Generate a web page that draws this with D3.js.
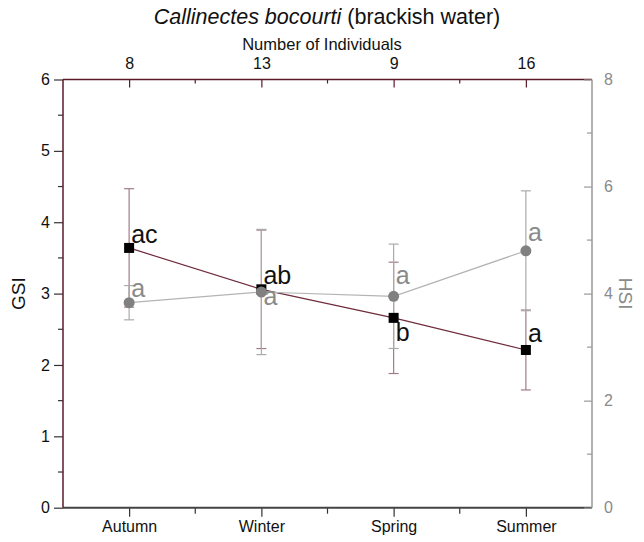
<!DOCTYPE html>
<html>
<head>
<meta charset="utf-8">
<script src="https://cdn.jsdelivr.net/npm/d3@7"></script>
<style>
  html, body { margin: 0; padding: 0; background: #fff; }
  svg { display: block; font-family: "Liberation Sans", Arial, sans-serif; }
</style>
</head>
<body>
<svg id="chart" width="644" height="542"></svg>
<script>
// Seasons and the number of crabs sampled in each
const seasons = ["Autumn", "Winter", "Spring", "Summer"];
const individuals = [8, 13, 9, 16];

// Gonadosomatic index (left axis): mean and error
const gsiMean = [3.64, 3.06, 2.66, 2.21];
const gsiErr = [0.83, 0.83, 0.78, 0.56];

// Hepatosomatic index (right axis): mean and error
const hsiMean = [3.83, 4.03, 3.95, 4.80];
const hsiErr = [0.32, 1.17, 0.975, 1.12];

// Significance letters
const gsiLetters = ["ac", "ab", "b", "a"];
const hsiLetters = ["a", "a", "a", "a"];

// Tick values
const gsiTicks = [0, 1, 2, 3, 4, 5, 6];
const hsiTicks = [0, 2, 4, 6, 8];

const svg = d3.select("#chart");
const L = 63, R = 592, T = 79.5, B = 507.7;

const maroon = "#5a1a2a";
const gsiLine = "#6e2c3c";
const gsiBar = "#a07c88";
const hsiColor = "#808080";
const hsiLine = "#b4b4b4";
const hsiBar = "#ababab";

const x = d3.scalePoint().domain(seasons).range([L, R]).padding(0.5);
const yG = d3.scaleLinear().domain([0, 6]).range([B, T]);
const yH = d3.scaleLinear().domain([0, 8]).range([B, T]);

const gsi = seasons.map((s, i) => ({ s, v: gsiMean[i], e: gsiErr[i], t: gsiLetters[i] }));
const hsi = seasons.map((s, i) => ({ s, v: hsiMean[i], e: hsiErr[i], t: hsiLetters[i] }));

// midpoints between categories for minor ticks
const mids = d3.range(seasons.length - 1).map(i => (x(seasons[i]) + x(seasons[i + 1])) / 2);

function styleAxis(g, color, textColor) {
  g.select(".domain").remove();
  g.selectAll(".tick line").attr("stroke", color).attr("stroke-width", 1.2);
  g.selectAll(".tick text").attr("fill", textColor)
    .style("font-size", "16px").style("font-family", "Liberation Sans, Arial, sans-serif");
}

// ---- Bottom axis ----
const gb = svg.append("g").attr("transform", `translate(0,${B})`)
  .call(d3.axisBottom(x).tickSize(9).tickPadding(4));
styleAxis(gb, "#333", "#111");
gb.selectAll(".minor").data(mids).join("line")
  .attr("x1", d => d).attr("x2", d => d).attr("y1", 0).attr("y2", 6)
  .attr("stroke", "#333").attr("stroke-width", 1.2);
svg.append("line").attr("x1", L).attr("x2", R).attr("y1", B).attr("y2", B)
  .attr("stroke", "#444").attr("stroke-width", 2);

// ---- Top axis (number of individuals) ----
const xTop = d3.scalePoint().domain(individuals.map((d, i) => i)).range([L, R]).padding(0.5);
const gt = svg.append("g").attr("transform", `translate(0,${T})`)
  .call(d3.axisTop(xTop).tickSize(-8).tickPadding(11).tickFormat(i => individuals[i]));
styleAxis(gt, maroon, "#111");
gt.selectAll(".minor").data(mids).join("line")
  .attr("x1", d => d).attr("x2", d => d).attr("y1", 0).attr("y2", 4)
  .attr("stroke", maroon).attr("stroke-width", 1.2);
svg.append("line").attr("x1", L).attr("x2", R).attr("y1", T).attr("y2", T)
  .attr("stroke", maroon).attr("stroke-width", 1.5);

// ---- Left axis (GSI) ----
const gl = svg.append("g").attr("transform", `translate(${L},0)`)
  .call(d3.axisLeft(yG).tickValues(gsiTicks).tickSize(9).tickPadding(4).tickFormat(d3.format("d")));
styleAxis(gl, "#333", "#111");
gl.selectAll(".minor").data(d3.range(0.5, 6, 1)).join("line")
  .attr("x1", -5).attr("x2", 0).attr("y1", d => yG(d)).attr("y2", d => yG(d))
  .attr("stroke", "#333").attr("stroke-width", 1.2);
svg.append("line").attr("x1", L).attr("x2", L).attr("y1", T).attr("y2", B)
  .attr("stroke", maroon).attr("stroke-width", 1.5);

// ---- Right axis (HSI) ----
const gr = svg.append("g").attr("transform", `translate(${R},0)`)
  .call(d3.axisRight(yH).tickValues(hsiTicks).tickSize(8).tickPadding(4).tickFormat(d3.format("d")));
styleAxis(gr, "#999", "#8a8a8a");
gr.selectAll(".minor").data([1, 3, 5, 7]).join("line")
  .attr("x1", 0).attr("x2", -5).attr("y1", d => yH(d)).attr("y2", d => yH(d))
  .attr("stroke", "#999").attr("stroke-width", 1.2);
gr.selectAll(".tick line").attr("x2", -8);
svg.append("line").attr("x1", R).attr("x2", R).attr("y1", T).attr("y2", B)
  .attr("stroke", "#999").attr("stroke-width", 1.5);

// ---- Titles ----
const title = svg.append("text").attr("x", 327).attr("y", 24).attr("text-anchor", "middle")
  .attr("fill", "#111").style("font-size", "21.5px");
title.append("tspan").style("font-style", "italic").text("Callinectes bocourti");
title.append("tspan").text(" (brackish water)");

svg.append("text").attr("x", 322).attr("y", 50).attr("text-anchor", "middle")
  .attr("fill", "#111").style("font-size", "16.5px").text("Number of Individuals");

svg.append("text").attr("transform", `translate(25,${(T + B) / 2}) rotate(-90)`)
  .attr("text-anchor", "middle").attr("fill", "#111").style("font-size", "19px").text("GSI");

svg.append("text").attr("transform", `translate(619,${(T + B) / 2}) rotate(90)`)
  .attr("text-anchor", "middle").attr("fill", "#8a8a8a").style("font-size", "19px").text("HSI");

// ---- Error bars ----
function errorBars(data, y, color) {
  const g = svg.append("g").attr("stroke", color).attr("stroke-width", 1.2).attr("fill", "none");
  data.forEach(d => {
    const cx = x(d.s), y0 = y(d.v - d.e), y1 = y(d.v + d.e);
    g.append("line").attr("x1", cx).attr("x2", cx).attr("y1", y0).attr("y2", y1);
    g.append("line").attr("x1", cx - 5).attr("x2", cx + 5).attr("y1", y0).attr("y2", y0);
    g.append("line").attr("x1", cx - 5).attr("x2", cx + 5).attr("y1", y1).attr("y2", y1);
  });
}
errorBars(gsi, yG, gsiBar);
errorBars(hsi, yH, hsiBar);

// ---- GSI series ----
svg.append("path").datum(gsi)
  .attr("d", d3.line().x(d => x(d.s)).y(d => yG(d.v)))
  .attr("fill", "none").attr("stroke", gsiLine).attr("stroke-width", 1.2);
svg.selectAll(".sq").data(gsi).join("rect")
  .attr("x", d => x(d.s) - 5).attr("y", d => yG(d.v) - 5)
  .attr("width", 10).attr("height", 10).attr("fill", "#000");

// ---- HSI series ----
svg.append("path").datum(hsi)
  .attr("d", d3.line().x(d => x(d.s)).y(d => yH(d.v)))
  .attr("fill", "none").attr("stroke", hsiLine).attr("stroke-width", 1.2);
svg.selectAll(".ci").data(hsi).join("circle")
  .attr("cx", d => x(d.s)).attr("cy", d => yH(d.v)).attr("r", 5.5).attr("fill", hsiColor);

// ---- Significance letters ----
const gsiDy = [-5, -5, 23, -8];
const hsiDy = [-6, 13, -12, -10];
svg.selectAll(".gl").data(gsi).join("text")
  .attr("x", d => x(d.s) + 2).attr("y", (d, i) => yG(d.v) + gsiDy[i])
  .attr("fill", "#111").style("font-size", "25px").text(d => d.t);
svg.selectAll(".hl").data(hsi).join("text")
  .attr("x", d => x(d.s) + 2).attr("y", (d, i) => yH(d.v) + hsiDy[i])
  .attr("fill", "#8a8a8a").style("font-size", "25px").text(d => d.t);
</script>
</body>
</html>
